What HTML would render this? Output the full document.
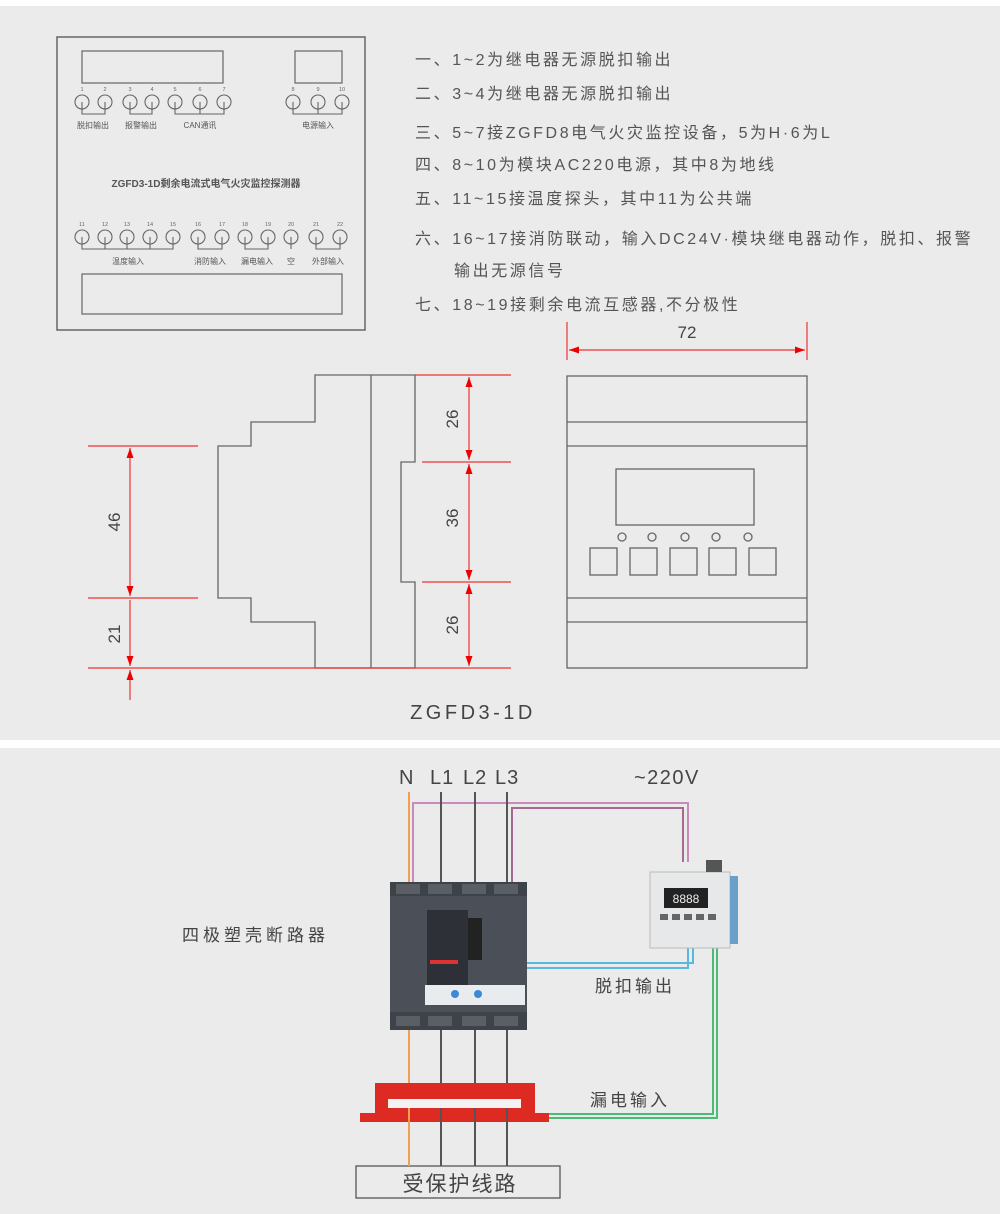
<!DOCTYPE html>
<html><head><meta charset="utf-8"><style>
html,body{margin:0;padding:0;background:#fff}
svg{display:block}
text{font-family:"Liberation Sans","Noto Sans CJK SC",sans-serif}
</style></head><body>
<svg width="1000" height="1214" viewBox="0 0 1000 1214" xmlns="http://www.w3.org/2000/svg">
<defs>
<marker id="ar" viewBox="0 0 10 10" refX="10" refY="5" markerWidth="10" markerHeight="16" orient="auto-start-reverse" markerUnits="userSpaceOnUse"><path d="M0,1.5 L10,5 L0,8.5 z" fill="#e00"/></marker>
</defs>
<rect x="0" y="0" width="1000" height="1214" fill="#fff"/>
<rect x="0" y="6" width="1000" height="734" fill="#ebebeb"/>
<rect x="0" y="748" width="1000" height="466" fill="#ebebeb"/>

<!-- terminal panel -->
<g stroke="#666" fill="none" stroke-width="1.2">
<rect x="57" y="37" width="308" height="293" stroke-width="1.5"/>
<rect x="82" y="51" width="141" height="32"/>
<rect x="295" y="51" width="47" height="32"/>
<rect x="82" y="274" width="260" height="40"/>
</g>
<g stroke="#666" fill="none" stroke-width="1.1">
<circle cx="82" cy="102" r="7"/><circle cx="105" cy="102" r="7"/><circle cx="130" cy="102" r="7"/><circle cx="152" cy="102" r="7"/><circle cx="175" cy="102" r="7"/><circle cx="200" cy="102" r="7"/><circle cx="224" cy="102" r="7"/>
<circle cx="293" cy="102" r="7"/><circle cx="318" cy="102" r="7"/><circle cx="342" cy="102" r="7"/>
<path d="M82,102V114H105V102M130,102V114H152V102M175,102V114H224V102M200,102V114M293,102V114H342V102M318,102V114"/>
<circle cx="82" cy="237" r="7"/><circle cx="105" cy="237" r="7"/><circle cx="127" cy="237" r="7"/><circle cx="150" cy="237" r="7"/><circle cx="173" cy="237" r="7"/><circle cx="198" cy="237" r="7"/><circle cx="222" cy="237" r="7"/><circle cx="245" cy="237" r="7"/><circle cx="268" cy="237" r="7"/><circle cx="291" cy="237" r="7"/><circle cx="316" cy="237" r="7"/><circle cx="340" cy="237" r="7"/>
<path d="M82,237V249H173V237M105,237V249M127,237V249M150,237V249M198,237V249H222V237M245,237V249H268V237M291,237V249M316,237V249H340V237"/>
</g>
<g font-size="5.5" fill="#666" text-anchor="middle">
<text x="82" y="91">1</text><text x="105" y="91">2</text><text x="130" y="91">3</text><text x="152" y="91">4</text><text x="175" y="91">5</text><text x="200" y="91">6</text><text x="224" y="91">7</text>
<text x="293" y="91">8</text><text x="318" y="91">9</text><text x="342" y="91">10</text>
<text x="82" y="226">11</text><text x="105" y="226">12</text><text x="127" y="226">13</text><text x="150" y="226">14</text><text x="173" y="226">15</text><text x="198" y="226">16</text><text x="222" y="226">17</text><text x="245" y="226">18</text><text x="268" y="226">19</text><text x="291" y="226">20</text><text x="316" y="226">21</text><text x="340" y="226">22</text>
</g>
<g font-size="8" fill="#555" text-anchor="middle">
<text x="93" y="128">脱扣输出</text><text x="141" y="128">报警输出</text><text x="200" y="128">CAN通讯</text><text x="318" y="128">电源输入</text>
<text x="128" y="264">温度输入</text><text x="210" y="264">消防输入</text><text x="257" y="264">漏电输入</text><text x="291" y="264">空</text><text x="328" y="264">外部输入</text>
</g>
<text x="206" y="187" font-size="10" fill="#555" text-anchor="middle" font-weight="bold">ZGFD3-1D剩余电流式电气火灾监控探测器</text>

<!-- notes -->
<g font-size="16" fill="#555" letter-spacing="2.6">
<text x="415" y="65">一、1~2为继电器无源脱扣输出</text>
<text x="415" y="99">二、3~4为继电器无源脱扣输出</text>
<text x="415" y="138">三、5~7接ZGFD8电气火灾监控设备，5为H·6为L</text>
<text x="415" y="170">四、8~10为模块AC220电源，其中8为地线</text>
<text x="415" y="204">五、11~15接温度探头，其中11为公共端</text>
<text x="415" y="244">六、16~17接消防联动，输入DC24V·模块继电器动作，脱扣、报警</text>
<text x="454" y="276">输出无源信号</text>
<text x="415" y="310">七、18~19接剩余电流互感器,不分极性</text>
</g>

<!-- side profile -->
<g stroke="#666" fill="none" stroke-width="1.3">
<path d="M315,375V422H251V446H218V598H251V622H315V668H415V582H401V462H415V375H315Z"/>
<path d="M371,375V668"/>
</g>
<g stroke="#e33" fill="none" stroke-width="1.2">
<path d="M415,375H511M422,462H511M422,582H511M88,668H511M88,446H198M88,598H198"/>
<line x1="469" y1="377" x2="469" y2="460" marker-start="url(#ar)" marker-end="url(#ar)"/>
<line x1="469" y1="464" x2="469" y2="580" marker-start="url(#ar)" marker-end="url(#ar)"/>
<line x1="469" y1="584" x2="469" y2="666" marker-start="url(#ar)" marker-end="url(#ar)"/>
<line x1="130" y1="448" x2="130" y2="596" marker-start="url(#ar)" marker-end="url(#ar)"/>
<line x1="130" y1="600" x2="130" y2="666" marker-end="url(#ar)"/>
<line x1="130" y1="700" x2="130" y2="670" marker-end="url(#ar)"/>
</g>
<g font-size="17" fill="#444" text-anchor="middle">
<text transform="translate(458,419) rotate(-90)">26</text>
<text transform="translate(458,518) rotate(-90)">36</text>
<text transform="translate(458,625) rotate(-90)">26</text>
<text transform="translate(120,522) rotate(-90)">46</text>
<text transform="translate(120,634) rotate(-90)">21</text>
<text x="687" y="338">72</text>
</g>

<!-- front view -->
<g stroke="#666" fill="none" stroke-width="1.3">
<rect x="567" y="376" width="240" height="292"/>
<path d="M567,422H807M567,446H807M567,598H807M567,622H807"/>
<rect x="616" y="469" width="138" height="56"/>
<circle cx="622" cy="537" r="4"/><circle cx="652" cy="537" r="4"/><circle cx="685" cy="537" r="4"/><circle cx="716" cy="537" r="4"/><circle cx="748" cy="537" r="4"/>
<rect x="590" y="548" width="27" height="27"/><rect x="630" y="548" width="27" height="27"/><rect x="670" y="548" width="27" height="27"/><rect x="709" y="548" width="27" height="27"/><rect x="749" y="548" width="27" height="27"/>
</g>
<g stroke="#e33" fill="none" stroke-width="1.2">
<path d="M567,322V360M807,322V360"/>
<line x1="569" y1="350" x2="805" y2="350" marker-start="url(#ar)" marker-end="url(#ar)"/>
</g>
<text x="473" y="719" font-size="20" fill="#444" text-anchor="middle" letter-spacing="3.5">ZGFD3-1D</text>

<!-- bottom wiring -->
<g font-size="20" fill="#444">
<text x="399" y="784">N</text><text x="430" y="784" letter-spacing="1">L1</text><text x="463" y="784" letter-spacing="1">L2</text><text x="495" y="784" letter-spacing="1">L3</text>
<text x="634" y="784" letter-spacing="1.5">~220V</text>
</g>
<g fill="none" stroke-width="2">
<path d="M413,890V803H688V862" stroke="#c98ab8"/>
<path d="M512,890V808H683V862" stroke="#a56a8f"/>
<path d="M409,792V890M409,1025V1168" stroke="#f0a050"/>
<path d="M441,792V890M475,792V890M507,792V890M441,1025V1168M475,1025V1168M507,1025V1168" stroke="#555"/>
<path d="M525,963H693V948M525,968H688V948" stroke="#5ab8e0"/>
<path d="M713,948V1114H549M717,948V1118H549" stroke="#4cbb78"/>
</g>
<!-- breaker -->
<rect x="390" y="882" width="137" height="148" rx="4" fill="#4b5058"/>
<rect x="390" y="882" width="137" height="14" fill="#3e4249"/>
<rect x="390" y="1012" width="137" height="18" fill="#3e4249"/>
<g fill="#5a5f66"><rect x="396" y="884" width="24" height="10"/><rect x="428" y="884" width="24" height="10"/><rect x="462" y="884" width="24" height="10"/><rect x="494" y="884" width="24" height="10"/>
<rect x="396" y="1016" width="24" height="10"/><rect x="428" y="1016" width="24" height="10"/><rect x="462" y="1016" width="24" height="10"/><rect x="494" y="1016" width="24" height="10"/></g>
<rect x="427" y="910" width="41" height="75" fill="#2d3036"/>
<rect x="468" y="918" width="14" height="42" fill="#222"/>
<rect x="425" y="985" width="100" height="20" fill="#e8ecef"/>
<circle cx="455" cy="994" r="4" fill="#3a8ad8"/><circle cx="478" cy="994" r="4" fill="#3a8ad8"/>
<rect x="430" y="960" width="28" height="4" fill="#d33"/>
<!-- device -->
<rect x="650" y="872" width="80" height="76" fill="#e6e8ea" stroke="#bbb"/>
<rect x="706" y="860" width="16" height="12" fill="#555"/>
<rect x="730" y="876" width="8" height="68" fill="#6aa0c8"/>
<rect x="664" y="888" width="44" height="20" fill="#222"/>
<text x="686" y="903" font-size="12" fill="#eee" text-anchor="middle">8888</text>
<g fill="#666"><rect x="660" y="914" width="8" height="6"/><rect x="672" y="914" width="8" height="6"/><rect x="684" y="914" width="8" height="6"/><rect x="696" y="914" width="8" height="6"/><rect x="708" y="914" width="8" height="6"/></g>
<!-- CT -->
<path d="M375,1083H535V1113H549V1122H360V1113H375Z" fill="#dd2a22"/>
<rect x="388" y="1099" width="133" height="9" fill="#f3f3f3"/>
<rect x="356" y="1166" width="204" height="32" fill="#ebebeb" stroke="#555" stroke-width="1.3"/>
<g fill="none" stroke-width="2"><path d="M409,1108V1166" stroke="#f0a050"/><path d="M441,1108V1166M475,1108V1166M507,1108V1166" stroke="#555"/></g>
<text x="460" y="1191" font-size="21" fill="#444" text-anchor="middle" letter-spacing="2">受保护线路</text>
<g font-size="17" fill="#444">
<text x="182" y="941" letter-spacing="4">四极塑壳断路器</text>
<text x="595" y="992" letter-spacing="3">脱扣输出</text>
<text x="590" y="1106" letter-spacing="3">漏电输入</text>
</g>
</svg>
</body></html>
